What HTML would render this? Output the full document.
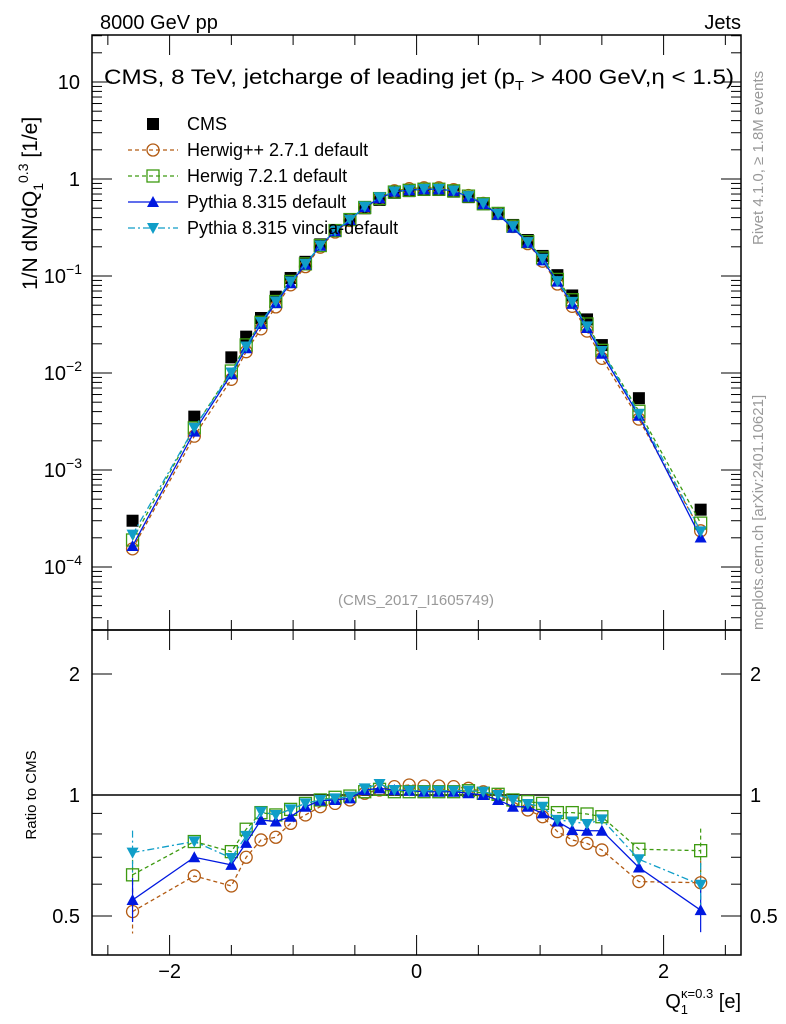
<!DOCTYPE html>
<html><head><meta charset="utf-8"><style>
body{margin:0;background:#fff;}
svg{display:block;font-family:"Liberation Sans",sans-serif;}
</style></head><body>
<div style="position:relative;width:786px;height:1024px">
<svg id="chartsvg" width="786" height="1024" viewBox="0 0 786 1024" xmlns="http://www.w3.org/2000/svg" style="position:absolute;left:0;top:0"></svg>
<svg width="786" height="1024" style="position:absolute;left:0;top:0;font-family:'Liberation Sans',sans-serif">
<text x="100" y="29" font-size="20">8000 GeV pp</text>
<text x="741" y="29" font-size="20" text-anchor="end">Jets</text>
<text x="104" y="84" font-size="21" textLength="630" lengthAdjust="spacingAndGlyphs">CMS, 8 TeV, jetcharge of leading jet (p<tspan dy="6" font-size="13">T</tspan><tspan dy="-6"> &gt; 400 GeV,η &lt; 1.5)</tspan></text>
<text x="416" y="605" font-size="15" fill="#999" text-anchor="middle">(CMS_2017_I1605749)</text>
<text transform="translate(37,290) rotate(-90)" font-size="21">1/N dN/dQ<tspan dy="6" font-size="14">1</tspan><tspan dy="-15" font-size="14">0.3</tspan><tspan dy="9"> [1/e]</tspan></text>
<text transform="translate(36,795) rotate(-90)" font-size="15" text-anchor="middle">Ratio to CMS</text>
<text x="741" y="1008" font-size="20" text-anchor="end">Q<tspan dy="6" font-size="13">1</tspan><tspan dx="-7" dy="-16" font-size="13">κ=0.3</tspan><tspan dy="10"> [e]</tspan></text>
<text transform="translate(763,245) rotate(-90)" font-size="15" fill="#999">Rivet 4.1.0, ≥ 1.8M events</text>
<text transform="translate(763,630) rotate(-90)" font-size="15" fill="#999">mcplots.cern.ch [arXiv:2401.10621]</text>
</svg>
</div>
<script>
var xVals=[-2.3,-1.8,-1.5,-1.38,-1.26,-1.14,-1.02,-0.9,-0.78,-0.66,-0.54,-0.42,-0.3,-0.18,-0.06,0.06,0.18,0.3,0.42,0.54,0.66,0.78,0.9,1.02,1.14,1.26,1.38,1.5,1.8,2.3];
var cmsVals=[3.0e-4,3.55e-3,0.0145,0.0237,0.0369,0.0612,0.0954,0.14,0.212,0.298,0.384,0.499,0.608,0.72,0.75,0.77,0.77,0.74,0.65,0.55,0.44,0.336,0.235,0.161,0.102,0.063,0.0357,0.0194,5.5e-3,3.9e-4];
var ratioHerwigpp=[0.513,0.629,0.594,0.70,0.773,0.785,0.85,0.892,0.935,0.953,0.972,1.01,1.029,1.049,1.059,1.053,1.053,1.049,1.039,1.019,1.0,0.963,0.918,0.883,0.811,0.773,0.758,0.73,0.609,0.605];
var ratioHerwig7=[0.633,0.766,0.723,0.822,0.904,0.892,0.921,0.953,0.972,0.987,0.994,1.019,1.033,1.019,1.019,1.019,1.019,1.019,1.025,1.01,1.004,0.972,0.963,0.953,0.904,0.904,0.897,0.883,0.733,0.727];
var ratioPythia=[0.548,0.70,0.67,0.76,0.867,0.859,0.883,0.935,0.968,0.972,0.981,1.029,1.039,1.029,1.025,1.019,1.019,1.019,1.01,1.0,0.972,0.935,0.935,0.90,0.859,0.818,0.815,0.815,0.66,0.517];
var ratioVincia=[0.719,0.766,0.697,0.791,0.909,0.892,0.921,0.953,0.972,0.981,0.991,1.039,1.065,1.029,1.025,1.025,1.025,1.025,1.025,1.019,1.0,0.972,0.95,0.935,0.867,0.859,0.847,0.87,0.692,0.598];
var xTickLabels=[-2,0,2];
var ratioTickLabels=[0.5,1,2];

(function(){
var NSU="http://www.w3.org/2000/svg";
var root=document.getElementById('chartsvg');
function mk(tag,attrs,parent){var e=document.createElementNS(NSU,tag);for(var k in attrs){e.setAttribute(k,attrs[k]);}(parent||root).appendChild(e);return e;}
var PL=92,PR=741,PT=35,PMB=630,PRB=955;
function sx(v){return 416.6+v*123.5;}
function sy(v){return 179-97*Math.log10(v);}
function sry(v){return 795-402*Math.log10(v);}

var f1=mk('rect',{x:PL,y:PT,width:PR-PL,height:PMB-PT,fill:'none',stroke:'#000','stroke-width':1.5});


var f2=mk('rect',{x:PL,y:PMB,width:PR-PL,height:PRB-PMB,fill:'none',stroke:'#000','stroke-width':1.5});



var gx=mk('g',{stroke:'#000','stroke-width':1});


var edges=[[PT,1],[PMB,-1],[PMB,1],[PRB,-1]];
for(var i=-5;i<=5;i++){
  var xx=sx(i*0.5);var len=(i%4===0)?20:10;
  for(var j=0;j<edges.length;j++){mk('line',{x1:xx,x2:xx,y1:edges[j][0],y2:edges[j][0]+edges[j][1]*len},gx);}
}
xTickLabels.forEach(function(v){
  var t=mk('text',{x:sx(v),y:978,'font-size':20,'text-anchor':'middle'});
  t.textContent=v<0?'\u2212'+Math.abs(v):String(v);
  
  
});

var gy=mk('g',{stroke:'#000','stroke-width':1});


for(var e=-5;e<=1;e++){for(var m=1;m<=9;m++){
  var yy=sy(m*Math.pow(10,e));if(yy<PT||yy>PMB)continue;var ln=m===1?20:10;
  mk('line',{x1:PL,x2:PL+ln,y1:yy,y2:yy},gy);mk('line',{x1:PR,x2:PR-ln,y1:yy,y2:yy},gy);
}}
[[10,'10'],[1,'1']].forEach(function(p){
  var t=mk('text',{x:80,y:sy(p[0])+7,'font-size':20,'text-anchor':'end'});t.textContent=p[1];
  
  
});
[-1,-2,-3,-4].forEach(function(ex){
  var t=mk('text',{x:82,y:sy(Math.pow(10,ex))+7,'font-size':20,'text-anchor':'end'});
  
  
  t.appendChild(document.createTextNode('10'));
  var ts=mk('tspan',{dy:-9,'font-size':14},t);ts.textContent='\u2212'+(-ex);
});

var grt=mk('g',{stroke:'#000','stroke-width':1});


[0.4,0.5,0.6,0.7,0.8,0.9,1,2].forEach(function(v){
  var yy=sry(v);if(yy<PMB||yy>PRB)return;var ln=(v===0.5||v===1||v===2)?20:10;
  mk('line',{x1:PL,x2:PL+ln,y1:yy,y2:yy},grt);mk('line',{x1:PR,x2:PR-ln,y1:yy,y2:yy},grt);
});
ratioTickLabels.forEach(function(v){
  [[80,'end'],[750,'start']].forEach(function(p){
    var t=mk('text',{x:p[0],y:sry(v)+7,'font-size':20,'text-anchor':p[1]});t.textContent=String(v);
    
    
  });
});
var refl=mk('line',{x1:PL,x2:PR,y1:sry(1),y2:sry(1),stroke:'#000','stroke-width':1.5});



function marker(g,type,x,y,c){
  if(type==='circle')mk('circle',{cx:x,cy:y,r:6,fill:'none',stroke:c,'stroke-width':1.3},g);
  else if(type==='square')mk('rect',{x:x-6,y:y-6,width:12,height:12,fill:'none',stroke:c,'stroke-width':1.3},g);
  else if(type==='tri-up')mk('polygon',{points:(x-6)+','+(y+5)+' '+(x+6)+','+(y+5)+' '+x+','+(y-6),fill:c},g);
  else if(type==='tri-down')mk('polygon',{points:(x-6)+','+(y-5)+' '+(x+6)+','+(y-5)+' '+x+','+(y+6),fill:c},g);
  else mk('rect',{x:x-6,y:y-6,width:12,height:12,fill:'#000'},g);
}
var gc=mk('g',{});


xVals.forEach(function(x,i){marker(gc,'cms',sx(x),sy(cmsVals[i]),'#000');});

var series=[
 {name:'herwigpp',ratio:ratioHerwigpp,color:'#b25a12',dash:'4,3',mark:'circle'},
 {name:'herwig7',ratio:ratioHerwig7,color:'#3d9a10',dash:'4,3',mark:'square'},
 {name:'pythia',ratio:ratioPythia,color:'#0018e0',dash:'none',mark:'tri-up'},
 {name:'vincia',ratio:ratioVincia,color:'#109ec8',dash:'7,3,2,3',mark:'tri-down'}
];
series.forEach(function(s){
  var g=mk('g',{});
  
  
  var pm=xVals.map(function(x,i){return sx(x)+','+sy(cmsVals[i]*s.ratio[i]);}).join(' ');
  mk('polyline',{points:pm,fill:'none',stroke:s.color,'stroke-width':1.3,'stroke-dasharray':s.dash},g);
  xVals.forEach(function(x,i){marker(g,s.mark,sx(x),sy(cmsVals[i]*s.ratio[i]),s.color);});
  var g2=mk('g',{});
  
  
  var pr=xVals.map(function(x,i){return sx(x)+','+sry(s.ratio[i]);}).join(' ');
  mk('polyline',{points:pr,fill:'none',stroke:s.color,'stroke-width':1.3,'stroke-dasharray':s.dash},g2);
  [0,29].forEach(function(i){var yv=sry(s.ratio[i]);mk('line',{x1:sx(xVals[i]),x2:sx(xVals[i]),y1:yv-22,y2:yv+22,stroke:s.color,'stroke-width':1.2,'stroke-dasharray':s.dash},g2);});
  xVals.forEach(function(x,i){marker(g2,s.mark,sx(x),sry(s.ratio[i]),s.color);});
});

var leg=[['CMS','cms','#000','none'],['Herwig++ 2.7.1 default','circle','#b25a12','4,3'],['Herwig 7.2.1 default','square','#3d9a10','4,3'],['Pythia 8.315 default','tri-up','#0018e0','none'],['Pythia 8.315 vincia-default','tri-down','#109ec8','7,3,2,3']];
leg.forEach(function(l,i){
  var yy=124+i*26;var g=mk('g',{});
  
  
  if(i>0)mk('line',{x1:128,x2:178,y1:yy,y2:yy,stroke:l[2],'stroke-width':1.3,'stroke-dasharray':l[3]},g);
  marker(g,l[1],153,yy,l[2]);
  var t=mk('text',{x:187,y:yy+6,'font-size':18},g);t.textContent=l[0];
});
})();
</script>
</body></html>
